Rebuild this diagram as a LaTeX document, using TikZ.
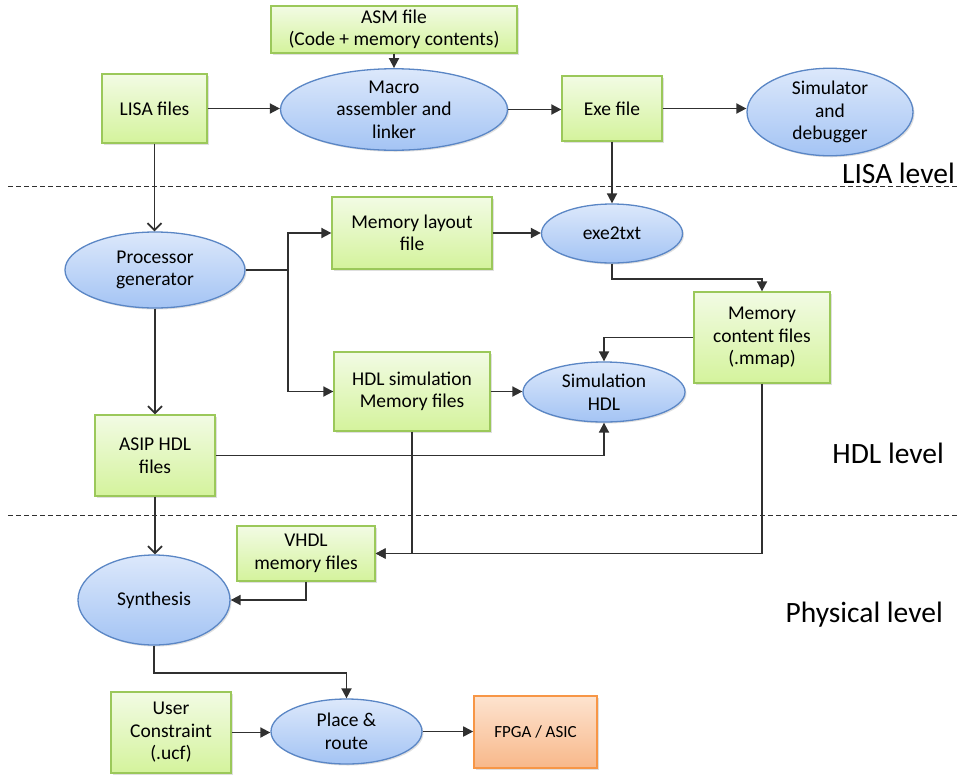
\documentclass[tikz,border=0pt]{standalone}
\usepackage{fontspec}
\setmainfont{Carlito}
\usetikzlibrary{shapes.geometric,arrows.meta,shadows}
\definecolor{gborder}{HTML}{9BC85A}
\definecolor{gtop}{HTML}{F2FBE4}
\definecolor{gbot}{HTML}{D4F39C}
\definecolor{bborder}{HTML}{5A86C5}
\definecolor{btop}{HTML}{DCE8FB}
\definecolor{bbot}{HTML}{A4C4F4}
\definecolor{oborder}{HTML}{F79646}
\definecolor{otop}{HTML}{FDE3CF}
\definecolor{obot}{HTML}{F8B88A}
\definecolor{lnc}{HTML}{303030}
\tikzset{
  gbox/.style={rectangle, draw=gborder, line width=1.3pt, top color=gtop, bottom color=gbot,
    align=center, inner sep=0pt, font=\fontsize{19.5}{22.5}\selectfont,
    drop shadow={opacity=0.25, shadow xshift=1.5pt, shadow yshift=-1.5pt}},
  bell/.style={ellipse, draw=bborder, line width=1.3pt, top color=btop, bottom color=bbot,
    align=center, inner sep=0pt, font=\fontsize{19.5}{22.5}\selectfont,
    drop shadow={opacity=0.25, shadow xshift=1.5pt, shadow yshift=-1.5pt}},
  obox/.style={rectangle, draw=oborder, line width=1.6pt, top color=otop, bottom color=obot,
    align=center, inner sep=0pt, font=\fontsize{17}{20}\selectfont,
    drop shadow={opacity=0.25, shadow xshift=1.5pt, shadow yshift=-1.5pt}},
  arr/.style={draw=lnc, line width=1.8pt, -{Triangle[length=10pt,width=10pt]}},
  oarr/.style={draw=lnc, line width=1.8pt, -{Straight Barb[length=7pt,width=14pt,line width=1.8pt]}},
  ln/.style={draw=lnc, line width=1.8pt},
  sep/.style={draw=lnc, line width=1pt, dash pattern=on 5pt off 3pt},
  lvl/.style={font=\fontsize{29.5}{34}\selectfont, anchor=base east, inner sep=0pt},
}
\begin{document}
\begin{tikzpicture}[x=1pt,y=-1pt]
\useasboundingbox (0,0) rectangle (960,774);
\fill[white] (0,0) rectangle (960,774);

% separators
\draw[sep] (8,186) -- (957,186);
\draw[sep] (8,515) -- (957,515);
\node[lvl] (l1) at (955,183) {LISA level};
\node[lvl] (l2) at (944,463) {HDL level};
\node[lvl] (l3) at (943,622) {Physical level};

% nodes
\node[gbox, minimum width=246pt, minimum height=47pt] (asm) at (394,29.5) {ASM file\\(Code + memory contents)};
\node[gbox, minimum width=105pt, minimum height=69pt] (lisa) at (154.5,108.5) {LISA files};
\node[bell, minimum width=227pt, minimum height=67pt] (mac) at (394,109.5) {Macro\\assembler and\\linker};
\node[gbox, minimum width=100pt, minimum height=65pt] (exe) at (612,108.5) {Exe file};
\node[bell, minimum width=166pt, minimum height=78pt] (sim) at (830,112) {Simulator\\and\\debugger};

\node[bell, minimum width=180pt, minimum height=76pt] (pg) at (155,270) {Processor\\generator};
\node[gbox, minimum width=160pt, minimum height=72pt] (mlf) at (412,233) {Memory layout\\file};
\node[bell, minimum width=141pt, minimum height=59pt] (e2t) at (612,233.5) {exe2txt};
\node[gbox, minimum width=136pt, minimum height=91pt] (mcf) at (762,337.5) {Memory\\content files\\(.mmap)};
\node[gbox, minimum width=156pt, minimum height=79pt] (hdls) at (412,391.5) {HDL simulation\\Memory files};
\node[bell, minimum width=162pt, minimum height=60pt] (sh) at (604,392) {Simulation\\HDL};
\node[gbox, minimum width=120pt, minimum height=81pt] (asip) at (155,455.5) {ASIP HDL\\files};

\node[gbox, minimum width=138pt, minimum height=55pt] (vhdl) at (306,553.5) {VHDL\\memory files};
\node[bell, minimum width=152pt, minimum height=90pt] (syn) at (154,600) {Synthesis};
\node[gbox, minimum width=120pt, minimum height=81pt] (uc) at (171,732.5) {User\\Constraint\\(.ucf)};
\node[bell, minimum width=151pt, minimum height=65pt] (pr) at (346.5,731.5) {Place \&\\route};
\node[obox, minimum width=123pt, minimum height=72pt] (fpga) at (535.5,732) {FPGA / ASIC};

% connectors
\draw[arr] (asm.south) -- (mac.north);
\draw[arr] (lisa.east) -- (lisa.east -| mac.west);
\draw[arr] (mac.east) -- (mac.east -| exe.west);
\draw[arr] (exe.east) -- (exe.east -| sim.west);
\draw[arr] (exe.south) -- (exe.south |- e2t.north);
\draw[oarr] (lisa.south) -- (lisa.south |- pg.north);
\coordinate (br) at (288,270);
\draw[ln] (pg.east) -- (br);
\draw[arr] (br) |- (mlf.west);
\draw[arr] (br) |- (hdls.west);
\draw[arr] (mlf.east) -- (mlf.east -| e2t.west);
\draw[arr] (e2t.south) -- ++(0,15) -| (mcf.north);
\draw[arr] (mcf.west) -| (sh.north);
\draw[arr] (hdls.east) -- (hdls.east -| sh.west);
\draw[oarr] (pg.south) -- (pg.south |- asip.north);
\draw[arr] (asip.east) -| (sh.south);
\draw[arr] (hdls.south) |- (vhdl.east);
\draw[arr] (mcf.south) |- (vhdl.east);
\draw[oarr] (asip.south) -- (asip.south |- syn.north);
\draw[arr] (vhdl.south) |- (syn.east);
\draw[arr] (syn.south) -- ++(0,27) -| (pr.north);
\draw[arr] (uc.east) -- (uc.east -| pr.west);
\draw[arr] (pr.east) -- (pr.east -| fpga.west);
\end{tikzpicture}
\end{document}
